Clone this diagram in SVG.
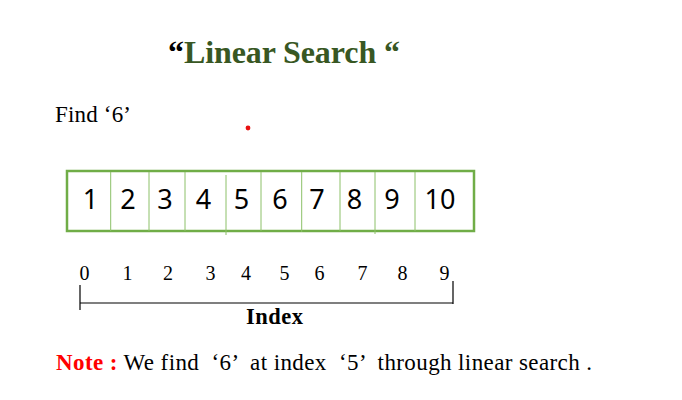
<svg xmlns="http://www.w3.org/2000/svg" width="682" height="400" viewBox="0 0 682 400">
<style>
.serif{font-family:"Liberation Serif","Times New Roman",serif;fill:#000}
.cell{font-family:"Noto Sans","Open Sans",sans-serif;font-size:27px;fill:#000;text-anchor:middle}
.idx{font-family:"Liberation Serif","Times New Roman",serif;font-size:20px;fill:#000;text-anchor:middle}
.div{stroke:#8cc068;stroke-width:1}
.axis{stroke:#000;stroke-width:1.2;fill:none}
</style>
<rect width="682" height="400" fill="#fff"/>
<g id="title">
<text class="serif" x="168" y="63" font-size="32" font-weight="bold" textLength="232" lengthAdjust="spacing"><tspan fill="#000">“</tspan><tspan fill="#385723">Linear Search “</tspan></text>
</g>
<g id="find">
<text class="serif" x="55" y="122" font-size="23" textLength="76" lengthAdjust="spacing">Find ‘6’</text>
</g>
<circle cx="248" cy="128" r="2.4" fill="#e81010"/>
<g id="array">
<rect x="67" y="171" width="407" height="60" fill="#fff" stroke="#70ad47" stroke-width="2.5"/>
<line class="div" x1="110.7" y1="172" x2="110.7" y2="231"/>
<line class="div" x1="149" y1="172" x2="149" y2="231"/>
<line class="div" x1="185" y1="172" x2="185" y2="231"/>
<line class="div" x1="226" y1="175" x2="226" y2="235"/>
<line class="div" x1="261" y1="172" x2="261" y2="231"/>
<line class="div" x1="301.7" y1="172" x2="301.7" y2="232"/>
<line class="div" x1="340" y1="172" x2="340" y2="231"/>
<line class="div" x1="375" y1="172" x2="375" y2="234"/>
<line class="div" x1="415" y1="172" x2="415" y2="231"/>
<text class="cell" x="90.5" y="209">1</text>
<text class="cell" x="128" y="209">2</text>
<text class="cell" x="165" y="209">3</text>
<text class="cell" x="203.5" y="209">4</text>
<text class="cell" x="241.5" y="209">5</text>
<text class="cell" x="280" y="209">6</text>
<text class="cell" x="317" y="209">7</text>
<text class="cell" x="354.5" y="209">8</text>
<text class="cell" x="392" y="209">9</text>
<text class="cell" x="440" y="209">10</text>
</g>
<g id="index-axis">
<text class="idx" x="84.5" y="280">0</text>
<text class="idx" x="127.5" y="280">1</text>
<text class="idx" x="168" y="280">2</text>
<text class="idx" x="210.5" y="280">3</text>
<text class="idx" x="246" y="280">4</text>
<text class="idx" x="284.5" y="280">5</text>
<text class="idx" x="319.5" y="280">6</text>
<text class="idx" x="362.5" y="280">7</text>
<text class="idx" x="402.5" y="280">8</text>
<text class="idx" x="444.5" y="280">9</text>
<path class="axis" d="M80,303 H453 M80,285 V310 M453,281 V304"/>
<text class="serif" x="246" y="324" font-size="22.5" font-weight="bold" textLength="57" lengthAdjust="spacing">Index</text>
</g>
<g id="note">
<text class="serif" x="56" y="370" font-size="23" style="white-space:pre" textLength="536" lengthAdjust="spacing"><tspan fill="#ff0000" font-weight="bold">Note :</tspan> We find  ‘6’  at index  ‘5’  through linear search .</text>
</g>
</svg>
